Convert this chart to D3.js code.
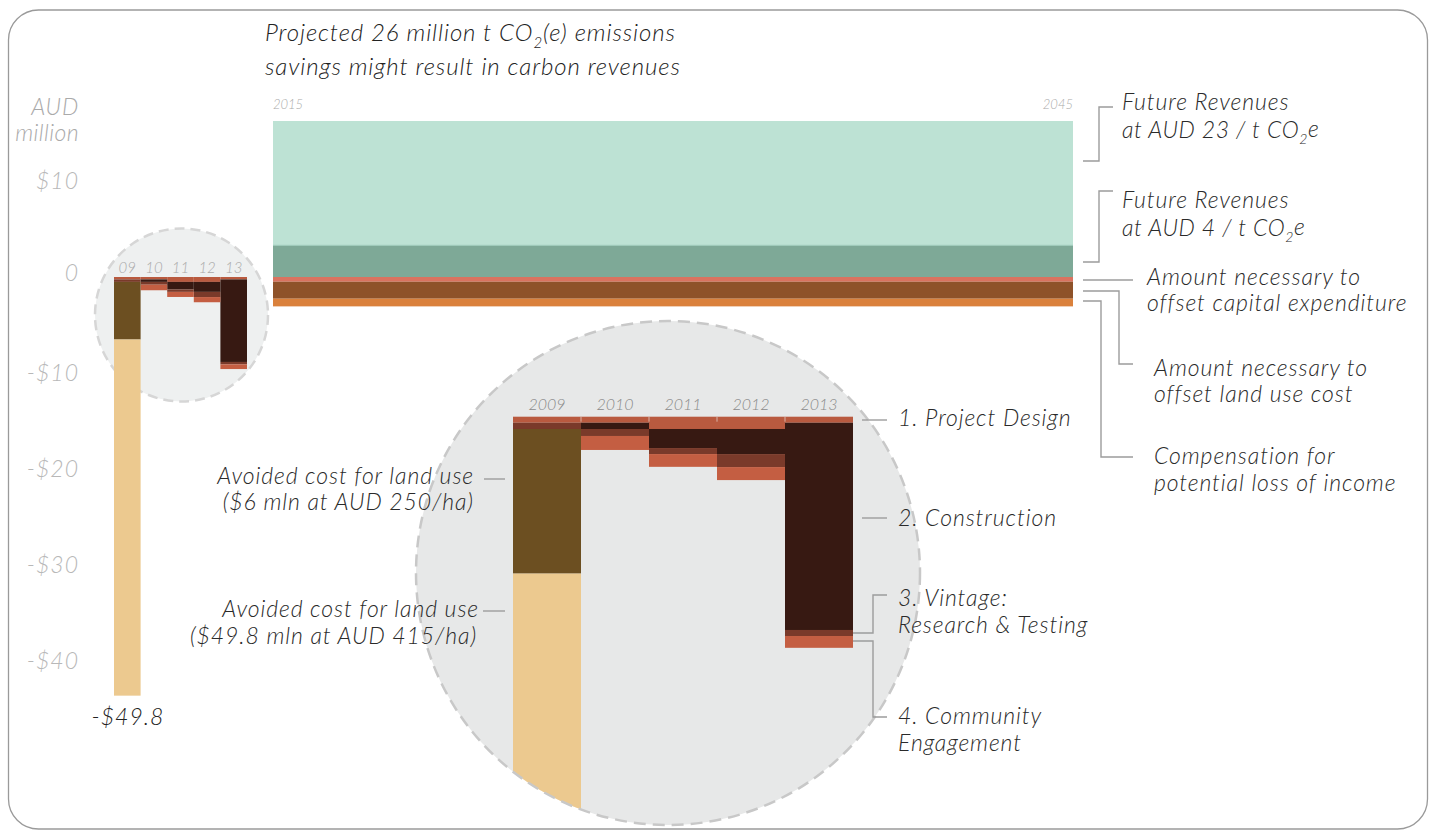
<!DOCTYPE html>
<html>
<head>
<meta charset="utf-8">
<script src="https://cdn.jsdelivr.net/npm/d3@7"></script>
<style>
  html, body { margin: 0; padding: 0; background: #fff; }
  svg { display: block; }
  text { font-family: Lato, "Open Sans", sans-serif; font-style: italic; font-weight: 300; }
</style>
</head>
<body>
<svg id="chart" width="1434" height="831"></svg>
<script>
// ---------------- DATA ----------------
const years = ["2009", "2010", "2011", "2012", "2013"];
const yearShort = ["09", "10", "11", "12", "13"];
// AUD million (drawn as costs, below zero)
const projectDesign = [0.25, 0.25, 0.51, 0.51, 0.25];
const construction  = [0.00, 0.26, 0.79, 1.04, 8.60];
const vintage       = [0.26, 0.29, 0.25, 0.54, 0.25];
const community     = [0.00, 0.58, 0.53, 0.54, 0.49];
const landUse250    = [6.00, 0, 0, 0, 0];
const landUse415    = [37.1, 0, 0, 0, 0];

const futureYears = [2015, 2045];
const revenueAt4  = 3.30;    // positive
const revenueAt23 = 12.95;   // positive, stacked on top
const offsetCapex    = 0.49; // negative
const offsetLandUse  = 1.77; // negative
const compensation   = 0.80; // negative

const yTicks = [10, 0, -10, -20, -30, -40];
const yTickLabels = ["$10", "0", "-$10", "-$20", "-$30", "-$40"];

// ---------------- SETUP ----------------
const svg = d3.select("#chart");
const COL = {
  pd: "#b95a3f", con: "#371912", vin: "#7a3a2a", com: "#c45e42",
  lu250: "#6c4f21", lu415: "#ecc98f",
  g23: "#bde2d4", g4: "#7ea997", capex: "#d9735f", land: "#8e5229", comp: "#da813c"
};
const seriesKeys = ["pd", "con", "vin", "com", "lu250", "lu415"];
const seriesVals = [projectDesign, construction, vintage, community, landUse250, landUse415];

const stackData = years.map((y, i) => {
  const o = { year: y };
  seriesKeys.forEach((k, j) => o[k] = seriesVals[j][i]);
  return o;
});
const stacked = d3.stack().keys(seriesKeys)(stackData);

// frame
svg.append("rect").attr("x", 8.5).attr("y", 10).attr("width", 1419).attr("height", 819)
  .attr("rx", 30).attr("ry", 30).attr("fill", "none").attr("stroke", "#9a9a9a").attr("stroke-width", 1.3);

// main y scale
const yMain = d3.scaleLinear().domain([0, -40]).range([277, 661]);

// axis labels
svg.append("text").attr("x", 79).attr("y", 107).attr("dy", "0.35em").attr("text-anchor", "end")
  .attr("fill", "#aaa").attr("font-size", 23).attr("letter-spacing", 0.8).text("AUD");
svg.append("text").attr("x", 79).attr("y", 133).attr("dy", "0.35em").attr("text-anchor", "end")
  .attr("fill", "#aaa").attr("font-size", 23).attr("letter-spacing", 0.4).text("million");
svg.selectAll("text.ytick").data(yTicks).join("text").attr("class", "ytick")
  .attr("x", 79).attr("y", d => yMain(d) - (d === 0 ? 4 : 0)).attr("dy", "0.35em").attr("text-anchor", "end")
  .attr("fill", "#b8b8b8").attr("font-size", 23).attr("letter-spacing", 1).text((d, i) => yTickLabels[i]);

// title
const title = svg.append("text").attr("x", 265).attr("y", 33).attr("dy", "0.35em")
  .attr("fill", "#222").attr("font-size", 24).attr("letter-spacing", 0.9);
title.append("tspan").text("Projected 26 million t CO");
title.append("tspan").attr("font-size", 15).attr("dy", "0.45em").text("2");
title.append("tspan").attr("dy", "-0.3em").text("(e) emissions");
svg.append("text").attr("x", 265).attr("y", 67).attr("dy", "0.35em").attr("letter-spacing", 0.9)
  .attr("fill", "#222").attr("font-size", 24).text("savings might result in carbon revenues");

// ---------------- FUTURE BARS ----------------
const xFuture = d3.scaleLinear().domain(futureYears).range([273, 1073]);
const fx = xFuture(futureYears[0]), fw = xFuture(futureYears[1]) - xFuture(futureYears[0]);
const futureSegs = [
  { a: 0, b: revenueAt4, c: COL.g4 },
  { a: revenueAt4, b: revenueAt4 + revenueAt23, c: COL.g23 },
  { a: 0, b: -offsetCapex, c: COL.capex },
  { a: -offsetCapex, b: -offsetCapex - offsetLandUse, c: COL.land },
  { a: -offsetCapex - offsetLandUse, b: -offsetCapex - offsetLandUse - compensation, c: COL.comp }
];
svg.selectAll("rect.future").data(futureSegs).join("rect").attr("class", "future")
  .attr("x", fx).attr("width", fw)
  .attr("y", d => Math.min(yMain(d.a), yMain(d.b)))
  .attr("height", d => Math.abs(yMain(d.a) - yMain(d.b)))
  .attr("fill", d => d.c);
svg.append("line").attr("x1", fx).attr("x2", fx + fw).attr("y1", yMain(revenueAt4)).attr("y2", yMain(revenueAt4))
  .attr("stroke", "#9ccab8").attr("stroke-width", 1);
svg.append("text").attr("x", xFuture(2015)).attr("y", 104).attr("dy", "0.35em").attr("fill", "#aaa")
  .attr("font-size", 13).text("2015");
svg.append("text").attr("x", xFuture(2045)).attr("y", 104).attr("dy", "0.35em").attr("fill", "#aaa")
  .attr("text-anchor", "end").attr("font-size", 13).text("2045");

// ---------------- SMALL CIRCLE ----------------
svg.append("circle").attr("cx", 181.5).attr("cy", 315).attr("r", 86.5)
  .attr("fill", "#eef0f0").attr("stroke", "#d6d6d6").attr("stroke-width", 2.5).attr("stroke-dasharray", "10,6");
const xSmall = d3.scaleBand().domain(years).range([114, 247]);
const gSmall = svg.append("g");
stacked.forEach(layer => {
  gSmall.selectAll(null).data(layer.filter(d => d[1] - d[0] > 0)).join("rect")
    .attr("x", d => xSmall(d.data.year)).attr("width", xSmall.bandwidth())
    .attr("y", d => yMain(-d[0])).attr("height", d => yMain(-d[1]) - yMain(-d[0]))
    .attr("fill", COL[layer.key]);
});
svg.selectAll("text.ys").data(years).join("text").attr("class", "ys")
  .attr("x", d => xSmall(d) + xSmall.bandwidth() / 2).attr("y", 268).attr("dy", "0.35em")
  .attr("text-anchor", "middle").attr("fill", "#aaa").attr("font-size", 15)
  .text((d, i) => yearShort[i]);
svg.append("text").attr("x", 128).attr("y", 717).attr("dy", "0.35em").attr("text-anchor", "middle")
  .attr("fill", "#222").attr("font-size", 23).attr("letter-spacing", 1).text("-$49.8");

// ---------------- LARGE CIRCLE ----------------
const LC = { cx: 668, cy: 573, r: 252 };
svg.append("clipPath").attr("id", "bigclip").append("circle")
  .attr("cx", LC.cx).attr("cy", LC.cy).attr("r", LC.r);
svg.append("circle").attr("cx", LC.cx).attr("cy", LC.cy).attr("r", LC.r).attr("fill", "#e7e8e8");
const xLarge = d3.scaleBand().domain(years).range([513, 853]);
const yLarge = d3.scaleLinear().domain([0, -10]).range([416.7, 657.7]);
const gLarge = svg.append("g").attr("clip-path", "url(#bigclip)");
stacked.forEach(layer => {
  gLarge.selectAll(null).data(layer.filter(d => d[1] - d[0] > 0)).join("rect")
    .attr("x", d => xLarge(d.data.year)).attr("width", xLarge.bandwidth())
    .attr("y", d => yLarge(-d[0])).attr("height", d => yLarge(-d[1]) - yLarge(-d[0]))
    .attr("fill", COL[layer.key]);
});
gLarge.selectAll("line.sep").data(years.slice(1)).join("line").attr("class", "sep")
  .attr("x1", d => xLarge(d)).attr("x2", d => xLarge(d))
  .attr("y1", yLarge(0)).attr("y2", yLarge(0) + 5)
  .attr("stroke", "#e0c8c0").attr("stroke-width", 0.8);
svg.append("circle").attr("cx", LC.cx).attr("cy", LC.cy).attr("r", LC.r)
  .attr("fill", "none").attr("stroke", "#c8c8c8").attr("stroke-width", 2.5).attr("stroke-dasharray", "12,7");
svg.selectAll("text.yl").data(years).join("text").attr("class", "yl")
  .attr("x", d => xLarge(d) + xLarge.bandwidth() / 2).attr("y", 404).attr("dy", "0.35em")
  .attr("text-anchor", "middle").attr("fill", "#8a8a8a").attr("font-size", 16).text(d => d);

// ---------------- ANNOTATIONS ----------------
const ink = "#2a2a2a", lineCol = "#9c9c9c";
function label(x, y, str, anchor) {
  return svg.append("text").attr("x", x).attr("y", y).attr("dy", "0.35em")
    .attr("text-anchor", anchor || "start").attr("fill", ink).attr("font-size", 23)
    .attr("letter-spacing", 0.9).text(str);
}
function labelCO2(x, y, pre) {
  const t = svg.append("text").attr("x", x).attr("y", y).attr("dy", "0.35em")
    .attr("fill", ink).attr("font-size", 23).attr("letter-spacing", 0.6);
  t.append("tspan").text(pre);
  t.append("tspan").attr("font-size", 14).attr("dy", "0.45em").text("2");
  t.append("tspan").attr("dy", "-0.3em").text("e");
}
function path(pts) {
  svg.append("path").attr("d", d3.line()(pts)).attr("fill", "none")
    .attr("stroke", lineCol).attr("stroke-width", 1.4);
}
label(1122, 102, "Future Revenues");
labelCO2(1122, 130, "at AUD 23 / t CO");
path([[1083, 161], [1099, 161], [1099, 107], [1113, 107]]);
label(1122, 200, "Future Revenues");
labelCO2(1122, 228, "at AUD 4 / t CO");
path([[1083, 262], [1099, 262], [1099, 191], [1113, 191]]);
label(1147, 277, "Amount necessary to");
label(1147, 303, "offset capital expenditure");
path([[1083, 280], [1133, 280]]);
label(1154, 368, "Amount necessary to");
label(1154, 394, "offset land use cost");
path([[1083, 291], [1119, 291], [1119, 364], [1133, 364]]);
label(1154, 456, "Compensation for");
label(1154, 483, "potential loss of income");
path([[1083, 301], [1101, 301], [1101, 457], [1133, 457]]);

label(898, 418, "1. Project Design");
path([[862, 420], [887, 420]]);
label(898, 518, "2. Construction");
path([[862, 518], [887, 518]]);
label(898, 598, "3. Vintage:");
label(898, 625, "Research & Testing");
path([[853, 633], [873, 633], [873, 595], [887, 595]]);
label(898, 716, "4. Community");
label(898, 743, "Engagement");
path([[853, 641], [873, 641], [873, 717], [887, 717]]);

label(474, 476, "Avoided cost for land use", "end");
label(474, 502, "($6 mln at AUD 250/ha)", "end");
path([[484, 479], [505, 479]]);
label(479, 609, "Avoided cost for land use", "end");
label(477, 636, "($49.8 mln at AUD 415/ha)", "end");
path([[483, 611], [505, 611]]);
</script>
</body>
</html>
